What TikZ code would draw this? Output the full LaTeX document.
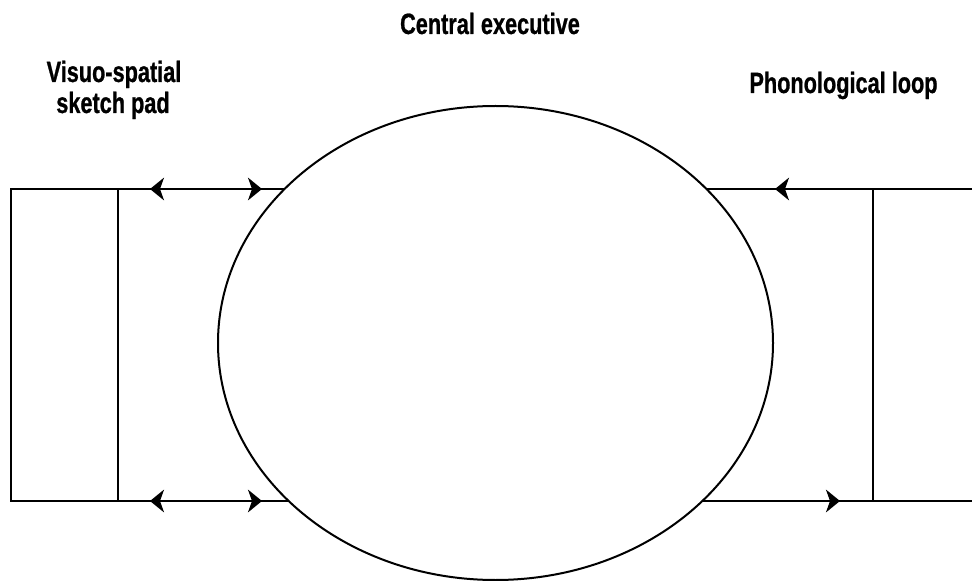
\documentclass[tikz,border=0pt]{standalone}
\usepackage{fontspec}
\setmainfont{Liberation Sans}[FakeStretch=0.74, BoldFeatures={FakeBold=0.8}]
\usetikzlibrary{arrows.meta,decorations.markings,shapes.geometric}
\tikzset{
  conn/.style={line width=1.5pt},
  lbl/.style={font=\fontsize{22}{25}\selectfont\bfseries, inner sep=0pt, align=center},
  boxst/.style={draw, line width=1.5pt, inner sep=0pt, outer sep=0pt},
}
\newcommand{\mytip}{\arrow{Stealth[length=10.5pt,width=17pt,inset=3pt]}}
\newcommand{\mytiprev}{\arrowreversed{Stealth[length=10.5pt,width=17pt,inset=3pt]}}
\begin{document}
\begin{tikzpicture}[x=0.75pt,y=-0.75pt]
\useasboundingbox (0,0) rectangle (972,581);
\clip (0,0) rectangle (972,581);
% boxes
\node[boxst, minimum width=80.25pt, minimum height=234pt] (lb) at (64.5,345) {};
\node[boxst, minimum width=95.25pt, minimum height=234pt] (rb) at (936.5,345) {};
% ellipse centre (ellipse drawn later on top)
\coordinate (cec) at (495.5,343);
% connectors
\draw[conn, postaction={decorate}, decoration={markings,
   mark=at position 24pt with {\mytiprev},
   mark=at position 108pt with {\mytip}}]
   (lb.north east) -- (lb.north east -| cec);
\draw[conn, postaction={decorate}, decoration={markings,
   mark=at position 24pt with {\mytiprev},
   mark=at position 108pt with {\mytip}}]
   (lb.south east) -- (lb.south east -| cec);
\draw[conn, postaction={decorate}, decoration={markings,
   mark=at position 73.5pt with {\mytip}}]
   (rb.north west) -- (rb.north west -| cec);
\draw[conn, postaction={decorate}, decoration={markings,
   mark=at position 24.75pt with {\mytiprev}}]
   (rb.south west) -- (rb.south west -| cec);
% central executive ellipse
\node[draw, ellipse, fill=white, line width=1.5pt, inner sep=0pt, outer sep=0pt,
      minimum width=416.25pt, minimum height=355.5pt] (ce) at (cec) {};
% labels
\node[lbl, anchor=base] (tce) at (490,34) {Central executive};
\node[lbl, anchor=base] (tvs1) at (114,82) {Visuo-spatial};
\node[lbl, anchor=base] (tvs2) at (113,113) {sketch pad};
\node[lbl, anchor=base] (tpl) at (843.5,93) {Phonological loop};
\end{tikzpicture}
\end{document}
